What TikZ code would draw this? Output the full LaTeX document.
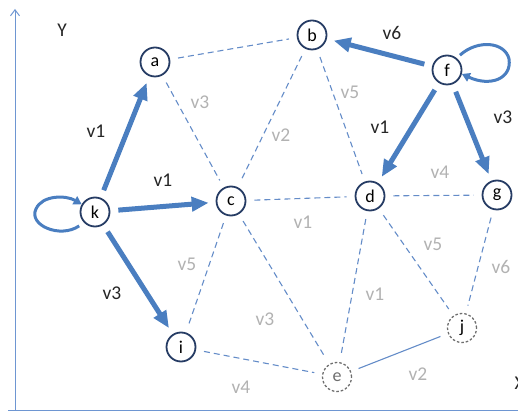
\documentclass[tikz,border=0pt]{standalone}
\usepackage{fontspec}
\setmainfont{Carlito}
\usetikzlibrary{arrows.meta}
\definecolor{arrowblue}{RGB}{74,126,192}
\definecolor{nodenavy}{RGB}{38,60,100}
\definecolor{dashblue}{RGB}{100,140,200}
\definecolor{lblgray}{RGB}{178,178,178}
\definecolor{circgray}{RGB}{110,110,110}
\definecolor{axisblue}{RGB}{110,150,210}
\tikzset{
  vert/.style={circle,draw=nodenavy,line width=1.8pt,minimum size=29pt,inner sep=0pt,font=\fontsize{18}{18}\selectfont,text=black},
  ghost/.style={circle,draw=circgray,dashed,dash pattern=on 2.5pt off 2pt,line width=1.3pt,minimum size=29pt,inner sep=0pt,font=\fontsize{18}{18}\selectfont},
  bigarrow/.style={draw=arrowblue,line width=5pt,-{Triangle[length=17pt,width=14pt]},shorten <=8pt,shorten >=7pt},
  loopar/.style={draw=arrowblue,line width=3pt,-{Triangle[length=8pt,width=9pt]}},
  weak/.style={draw=dashblue,line width=1.1pt,dash pattern=on 6pt off 4pt,shorten <=8pt,shorten >=8pt},
  solidweak/.style={draw=dashblue,line width=1.1pt,shorten <=8pt,shorten >=8pt},
  darklbl/.style={font=\fontsize{19.5}{19.5}\selectfont,text=black!85},
  graylbl/.style={font=\fontsize{19.5}{19.5}\selectfont,text=lblgray},
  axis/.style={draw=axisblue,line width=1pt}
}
\begin{document}
\begin{tikzpicture}[x=1pt,y=1pt]
\useasboundingbox (0,0) rectangle (518,417);
% axes
\coordinate (yb) at (15,7);
\coordinate (yt) at (15,408);
\coordinate (xl) at (8,7);
\coordinate (xr) at (518,7);
\draw[axis,-{Straight Barb[length=6pt,width=9pt]}] (yb) -- (yt);
\draw[axis] (xl) -- (xr);
\node[darklbl] (ylab) at (62,387) {Y};
\node[darklbl,anchor=west] (xlab) at (511,34) {X};
% vertices
\node[vert] (a) at (155,355) {a};
\node[vert] (b) at (312,382) {b};
\node[vert] (f) at (447,347) {f};
\node[vert] (c) at (231,216) {c};
\node[vert] (k) at (95,205) {k};
\node[vert] (d) at (370,221) {d};
\node[vert] (g) at (497,222) {g};
\node[vert] (i) at (181,70) {i};
\node[ghost,text=circgray] (e) at (337,40) {e};
\node[ghost,text=black] (j) at (462,89) {j};
% weak edges
\draw[weak] (a) -- (b);
\draw[weak] (a) -- (c);
\draw[weak] (b) -- (c);
\draw[weak] (b) -- (d);
\draw[weak] (c) -- (d);
\draw[weak] (d) -- (g);
\draw[weak] (c) -- (i);
\draw[weak] (c) -- (e);
\draw[weak] (d) -- (e);
\draw[weak] (d) -- (j);
\draw[weak] (g) -- (j);
\draw[weak] (i) -- (e);
\draw[solidweak] (e) -- (j);
% strong edges
\draw[bigarrow] (k) -- (a);
\draw[bigarrow] (k) -- (c);
\draw[bigarrow] (k) -- (i);
\draw[bigarrow] (f) -- (b);
\draw[bigarrow] (f) -- (d);
\draw[bigarrow] (f) -- (g);
% loops
\draw[loopar] (k.220) ++(-4,-4) .. controls (60,178) and (28,192) .. (36,208) .. controls (42,222) and (66,222) .. (k.150);
\draw[loopar] (f.50) ++(3,3) .. controls (478,378) and (505,375) .. (509,358) .. controls (512,338) and (490,330) .. (f.-15);
% labels
\node[darklbl] (l1) at (96,286) {v1};
\node[darklbl] (l2) at (163,237) {v1};
\node[darklbl] (l3) at (112,124) {v3};
\node[darklbl] (l4) at (392,384) {v6};
\node[darklbl] (l5) at (380,290) {v1};
\node[darklbl] (l6) at (503,300) {v3};
\node[graylbl] (l7) at (200,315) {v3};
\node[graylbl] (l8) at (281,282) {v2};
\node[graylbl] (l9) at (350,325) {v5};
\node[graylbl] (l10) at (303,195) {v1};
\node[graylbl] (l11) at (440,245) {v4};
\node[graylbl] (l12) at (187,153) {v5};
\node[graylbl] (l13) at (265,98) {v3};
\node[graylbl] (l14) at (375,123) {v1};
\node[graylbl] (l15) at (433,173) {v5};
\node[graylbl] (l16) at (501,150) {v6};
\node[graylbl] (l17) at (241,30) {v4};
\node[graylbl] (l18) at (418,43) {v2};
\end{tikzpicture}
\end{document}
